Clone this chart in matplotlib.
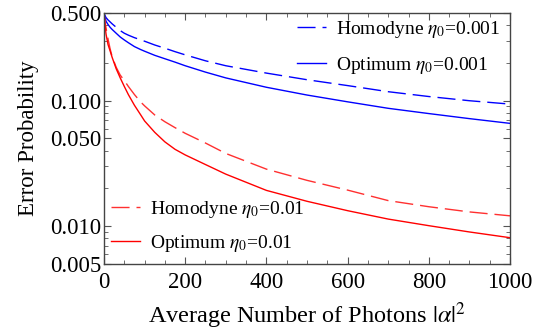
import matplotlib
matplotlib.use("Agg")
import matplotlib.pyplot as plt
from matplotlib.ticker import FixedLocator, NullFormatter, MultipleLocator, FixedFormatter

# photon numbers |alpha|^2
n_photons = [0, 2, 5, 10, 15, 20, 30, 40, 50, 60, 75, 90, 100, 125, 150, 175, 200,
             250, 300, 400, 500, 600, 700, 800, 900, 1000]

# eta0 = 0.001
homodyne_001 = [0.5, 0.48, 0.46, 0.44, 0.425, 0.41, 0.385, 0.362, 0.345, 0.333, 0.318,
                0.306, 0.298, 0.278, 0.262, 0.246, 0.232, 0.208, 0.19, 0.166,
                0.147, 0.132, 0.118, 0.108, 0.100, 0.094]
optimum_001 = [0.5, 0.47, 0.43, 0.405, 0.385, 0.37, 0.345, 0.322, 0.305, 0.29, 0.27,
               0.256, 0.248, 0.23, 0.216, 0.203, 0.19, 0.169, 0.152, 0.128,
               0.111, 0.098, 0.087, 0.079, 0.072, 0.066]

# eta0 = 0.01
homodyne_01 = [0.5, 0.44, 0.38, 0.31, 0.26, 0.225, 0.185, 0.16, 0.145, 0.13, 0.112,
               0.098, 0.091, 0.077, 0.068, 0.061, 0.055, 0.046, 0.038, 0.0285,
               0.0232, 0.0194, 0.016, 0.0143, 0.013, 0.0121]
optimum_01 = [0.5, 0.42, 0.34, 0.28, 0.25, 0.222, 0.18, 0.152, 0.13, 0.112, 0.092,
              0.0775, 0.069, 0.056, 0.047, 0.041, 0.037, 0.031, 0.026, 0.0193,
              0.0158, 0.0133, 0.0114, 0.0101, 0.009, 0.0081]

yticks = [0.005, 0.010, 0.050, 0.100, 0.500]
ytick_labels = ["0.005", "0.010", "0.050", "0.100", "0.500"]

plt.rcParams['font.family'] = ['Liberation Serif', 'DejaVu Serif']
plt.rcParams['mathtext.fontset'] = 'stix'

fig = plt.figure(figsize=(5.49, 3.36), dpi=100)
ax = fig.add_axes([0.1894, 0.2143, 0.7396, 0.7470])

dash = (13, 5)
l1, = ax.plot(n_photons, homodyne_001, color='blue', lw=1, dashes=dash,
              label=r'Homodyne $\eta_0$=0.001')
l2, = ax.plot(n_photons, optimum_001, color='blue', lw=1,
              label=r'Optimum $\eta_0$=0.001')
l3, = ax.plot(n_photons, homodyne_01, color='#ff3030', lw=1, dashes=dash,
              label=r'Homodyne $\eta_0$=0.01')
l4, = ax.plot(n_photons, optimum_01, color='red', lw=1,
              label=r'Optimum $\eta_0$=0.01')

ax.set_yscale('log')
ax.set_xlim(0, 1000)
ax.set_ylim(0.005, 0.5)

ax.yaxis.set_major_locator(FixedLocator(yticks))
ax.yaxis.set_major_formatter(FixedFormatter(ytick_labels))
minor = [k * 10.0 ** e for e in (-3, -2, -1) for k in range(1, 10)]
ax.yaxis.set_minor_locator(FixedLocator([m for m in minor if m not in yticks]))
ax.yaxis.set_minor_formatter(NullFormatter())
ax.xaxis.set_major_locator(MultipleLocator(200))
ax.xaxis.set_minor_locator(MultipleLocator(50))

ax.tick_params(which='both', direction='in', top=True, right=True, labelsize=16.5,
               color='#555555')
ax.tick_params(axis='y', pad=2)
ax.tick_params(axis='x', pad=6)
ax.tick_params(which='major', length=5, width=0.8)
ax.tick_params(which='minor', length=3, width=0.6)
for s in ax.spines.values():
    s.set_color('#444444')
    s.set_linewidth(1.0)

ax.set_xlabel(r'Average Number of Photons $|\alpha|^2$', fontsize=17.5, labelpad=5)
ax.set_ylabel('Error Probability', fontsize=16.5, labelpad=8)

leg1 = fig.legend(handles=[l1, l2], loc='center left', bbox_to_anchor=(0.541, 0.859),
                  frameon=False, fontsize=14, handlelength=1.5, handletextpad=0.5,
                  labelspacing=0.75, borderpad=0, borderaxespad=0)
leg2 = fig.legend(handles=[l3, l4], loc='center left', bbox_to_anchor=(0.202, 0.326),
                  frameon=False, fontsize=14, handlelength=1.5, handletextpad=0.5,
                  labelspacing=0.65, borderpad=0, borderaxespad=0)

fig.savefig('out.png', dpi=100)
